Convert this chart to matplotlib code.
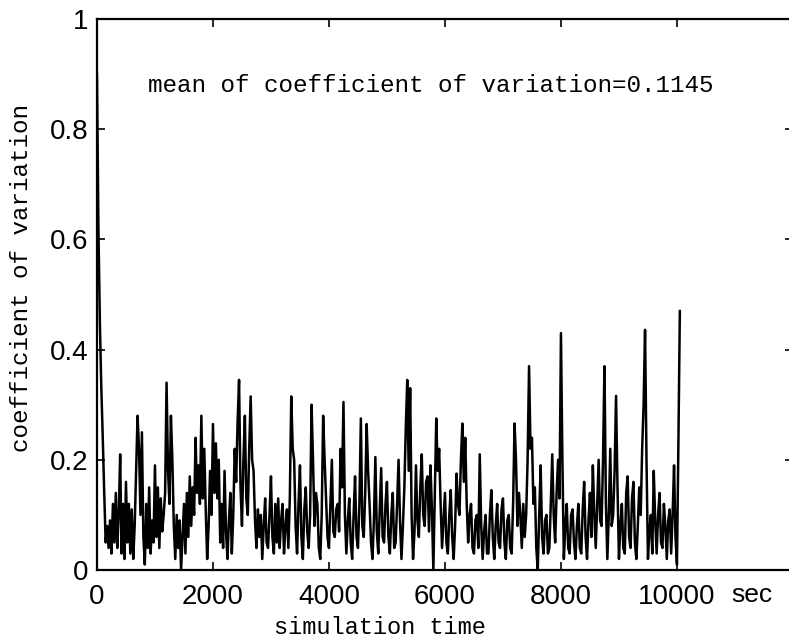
import matplotlib
matplotlib.use('Agg')
import matplotlib.pyplot as plt
import numpy as np

# coefficient of variation, every 25 sec
step = 25
cv = [0.90, 0.62, 0.45, 0.33, 0.24, 0.14, 0.05, 0.08, 0.04, 0.09,
      0.03, 0.12, 0.05, 0.14, 0.04, 0.10, 0.21, 0.03, 0.12, 0.02,
      0.16, 0.05, 0.12, 0.03, 0.11, 0.02, 0.08, 0.18, 0.28, 0.22,
      0.10, 0.25, 0.06, 0.01, 0.12, 0.04, 0.15, 0.03, 0.09, 0.05,
      0.19, 0.06, 0.15, 0.04, 0.13, 0.07, 0.10, 0.14, 0.34, 0.18,
      0.12, 0.28, 0.20, 0.08, 0.02, 0.10, 0.04, 0.09, 0.00, 0.06,
      0.12, 0.03, 0.14, 0.06, 0.17, 0.08, 0.15, 0.10, 0.24, 0.14,
      0.19, 0.12, 0.28, 0.13, 0.22, 0.11, 0.02, 0.08, 0.18, 0.10,
      0.265, 0.14, 0.23, 0.13, 0.20, 0.05, 0.12, 0.04, 0.18, 0.07,
      0.02, 0.09, 0.14, 0.03, 0.10, 0.22, 0.16, 0.27, 0.345, 0.15,
      0.08, 0.20, 0.28, 0.13, 0.10, 0.22, 0.315, 0.20, 0.18, 0.09,
      0.04, 0.11, 0.06, 0.10, 0.02, 0.08, 0.13, 0.05, 0.04, 0.10,
      0.17, 0.06, 0.03, 0.12, 0.05, 0.13, 0.04, 0.09, 0.12, 0.03,
      0.08, 0.11, 0.04, 0.13, 0.315, 0.22, 0.20, 0.08, 0.03, 0.12,
      0.19, 0.06, 0.02, 0.11, 0.15, 0.07, 0.04, 0.10, 0.30, 0.20,
      0.08, 0.14, 0.12, 0.04, 0.02, 0.10, 0.28, 0.20, 0.13, 0.06,
      0.04, 0.12, 0.20, 0.07, 0.06, 0.11, 0.12, 0.07, 0.22, 0.15,
      0.305, 0.10, 0.03, 0.09, 0.13, 0.05, 0.02, 0.10, 0.17, 0.06,
      0.04, 0.12, 0.275, 0.08, 0.06, 0.14, 0.265, 0.18, 0.12, 0.05,
      0.02, 0.09, 0.205, 0.07, 0.03, 0.11, 0.185, 0.06, 0.05, 0.12,
      0.16, 0.06, 0.03, 0.10, 0.14, 0.04, 0.05, 0.12, 0.20, 0.09,
      0.02, 0.08, 0.15, 0.26, 0.345, 0.18, 0.33, 0.10, 0.02, 0.07,
      0.19, 0.09, 0.06, 0.15, 0.21, 0.10, 0.08, 0.16, 0.17, 0.07,
      0.19, 0.11, 0.00, 0.14, 0.275, 0.18, 0.22, 0.12, 0.04, 0.09,
      0.14, 0.05, 0.03, 0.10, 0.145, 0.06, 0.02, 0.08, 0.175, 0.12,
      0.10, 0.20, 0.266, 0.16, 0.24, 0.12, 0.05, 0.10, 0.12, 0.04,
      0.03, 0.09, 0.10, 0.04, 0.21, 0.08, 0.02, 0.07, 0.10, 0.03,
      0.03, 0.10, 0.145, 0.06, 0.02, 0.08, 0.12, 0.05, 0.04, 0.11,
      0.13, 0.05, 0.02, 0.09, 0.10, 0.04, 0.03, 0.12, 0.266, 0.20,
      0.08, 0.14, 0.10, 0.04, 0.12, 0.06, 0.10, 0.20, 0.37, 0.22,
      0.24, 0.12, 0.15, 0.04, 0.00, 0.10, 0.19, 0.06, 0.03, 0.09,
      0.10, 0.03, 0.04, 0.12, 0.21, 0.10, 0.05, 0.14, 0.20, 0.13,
      0.43, 0.20, 0.02, 0.08, 0.12, 0.04, 0.03, 0.10, 0.11, 0.05,
      0.02, 0.08, 0.12, 0.04, 0.03, 0.11, 0.16, 0.06, 0.02, 0.09,
      0.14, 0.06, 0.19, 0.10, 0.04, 0.12, 0.20, 0.09, 0.08, 0.20,
      0.37, 0.12, 0.02, 0.10, 0.22, 0.08, 0.10, 0.18, 0.316, 0.15,
      0.02, 0.08, 0.12, 0.04, 0.03, 0.14, 0.17, 0.06, 0.04, 0.13,
      0.16, 0.05, 0.02, 0.08, 0.15, 0.10, 0.22, 0.30, 0.436, 0.20,
      0.02, 0.07, 0.10, 0.03, 0.18, 0.09, 0.03, 0.10, 0.14, 0.05,
      0.04, 0.12, 0.08, 0.02, 0.09, 0.11, 0.03, 0.10, 0.19, 0.06,
      0.01, 0.23, 0.47]
t = np.arange(len(cv)) * step

xticks = [0, 2000, 4000, 6000, 8000, 10000, 12000]
xticklabels = ['0', '2000', '4000', '6000', '8000', '10000', '']
yticks = [0, 0.2, 0.4, 0.6, 0.8, 1]
yticklabels = ['0', '0.2', '0.4', '0.6', '0.8', '1']

mono = 'Liberation Mono'
sans = 'Liberation Sans'

f = plt.figure(figsize=(7.89, 6.42), dpi=100)
ax = f.add_axes([0.1229, 0.1121, 0.8821, 0.8583])
ax.plot(t, cv, color='black', lw=1.8)

ax.set_xlim(0, 12000)
ax.set_ylim(0, 1)
ax.set_xticks(xticks)
ax.set_xticklabels(xticklabels, fontsize=20, family=sans)
ax.set_yticks(yticks)
ax.set_yticklabels(yticklabels, fontsize=20, family=sans)
ax.tick_params(direction='in', length=6, width=1.2, top=True, right=True)
ax.tick_params(axis='x', pad=10)
ax.tick_params(axis='y', pad=6)
for s in ax.spines.values():
    s.set_linewidth(1.6)

ax.text(880, 0.88, 'mean of coefficient of variation=0.1145',
        family=mono, fontsize=17.5, ha='left', va='center')

f.text(752 / 789, 1 - 595 / 642, 'sec', family=sans, fontsize=19,
       ha='center', va='center')
f.text(380 / 789, 1 - 628 / 642, 'simulation time', family=mono,
       fontsize=17, ha='center', va='center')
f.text(22 / 789, 1 - 278 / 642, 'coefficient of variation', family=mono,
       fontsize=17.5, ha='center', va='center', rotation=90)

f.savefig('out.png', dpi=100)
